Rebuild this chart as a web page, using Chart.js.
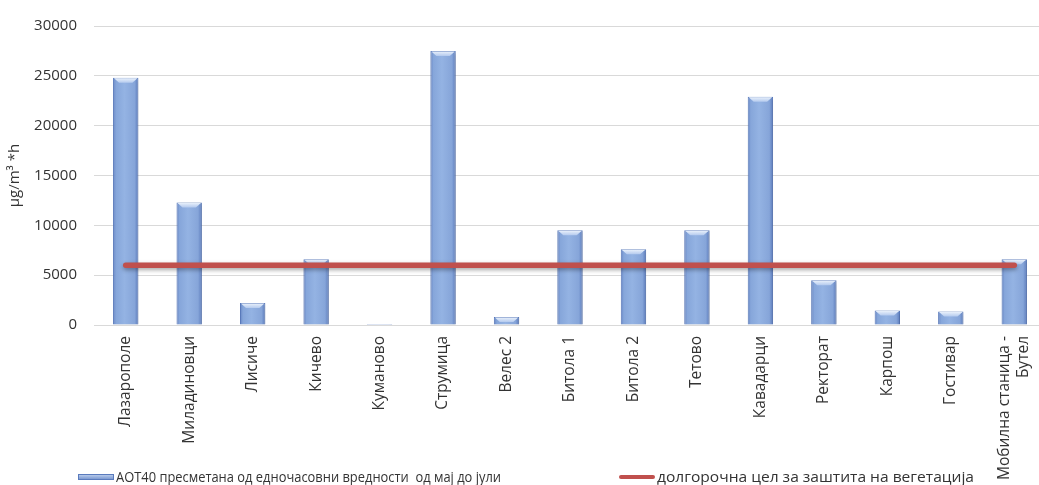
<!DOCTYPE html>
<html>
<head>
<meta charset="utf-8">
<script src="https://cdn.jsdelivr.net/npm/chart.js@4.4.1/dist/chart.umd.min.js"></script>
<style>
  html, body { margin: 0; padding: 0; background: #ffffff; overflow: hidden; }
  #wrap { position: relative; width: 1048px; height: 485px; }
</style>
</head>
<body>
<div id="wrap"><canvas id="c" width="1048" height="485"></canvas></div>
<script>
// Measuring stations
const stations = [
  'Лазарополе', 'Миладиновци', 'Лисиче', 'Кичево', 'Куманово',
  'Струмица', 'Велес 2', 'Битола 1', 'Битола 2', 'Тетово',
  'Кавадарци', 'Ректорат', 'Карпош', 'Гостивар', ['Мобилна станица -', 'Бутел']
];

// AOT40, May–July, µg/m³·h
const aot40 = [24800, 12300, 2200, 6600, 100, 27500, 800, 9500, 7600, 9500, 22900, 4500, 1450, 1350, 6600];

// Long-term objective for vegetation protection
const targetValue = 6000;
const target = stations.map(() => targetValue);

// Value axis
const yMin = 0;
const yMax = 30000;
const yStep = 5000;

const barLabel = 'AOT40 пресметана од едночасовни вредности  од мај до јули';
const lineLabel = 'долгорочна цел за заштита на вегетација';

const FONT = '"Open Sans", "Noto Sans", sans-serif';
const TEXT = '#333333';
const BAR_FILL = '#8eaddf';
const BAR_EDGE = '#5a7bbd';
const LINE_RED = '#c0504d';
const X_FONT_SIZE = 15.5;

// Shaded bars with a bevelled top, and a soft shadow under the target line
const styling = {
  id: 'styling',
  beforeDraw(chart) {
    // centre two-line category labels on their tick
    const xs = chart.scales.x;
    const lh = X_FONT_SIZE * 1.2;
    xs.getLabelItems().forEach(item => {
      if (Array.isArray(item.label) && item.label.length > 1 && !item._centred) {
        item.options.translation[0] -= lh * (item.label.length - 1) / 2;
        item._centred = true;
      }
    });
  },
  beforeDatasetDraw(chart, args) {
    const ctx = chart.ctx;
    const meta = args.meta;
    ctx.save();
    if (meta.type === 'bar') {
      meta.data.forEach(el => {
        const l = el.x - el.width / 2, r = el.x + el.width / 2;
        const g = ctx.createLinearGradient(l, 0, r, 0);
        g.addColorStop(0, '#6584c4');
        g.addColorStop(0.12, '#86a6da');
        g.addColorStop(0.45, '#94b3e3');
        g.addColorStop(0.85, '#86a5d9');
        g.addColorStop(1, '#5a7abb');
        el.options = Object.assign({}, el.options, { backgroundColor: g });
      });
      ctx.shadowColor = 'rgba(0,0,0,0.18)';
      ctx.shadowBlur = 3;
      ctx.shadowOffsetX = 1;
      ctx.shadowOffsetY = 1;
    } else if (meta.type === 'line') {
      ctx.shadowColor = 'rgba(0,0,0,0.35)';
      ctx.shadowBlur = 4;
      ctx.shadowOffsetY = 2;
    }
  },
  afterDatasetDraw(chart, args) {
    const ctx = chart.ctx;
    ctx.restore();
    const meta = args.meta;
    if (meta.type !== 'bar') return;
    ctx.save();
    meta.data.forEach(el => {
      const h = el.base - el.y;
      if (h < 3) return;
      const l = el.x - el.width / 2 + 1, r = el.x + el.width / 2 - 1;
      const d = Math.min(5, h - 1);
      const g = ctx.createLinearGradient(0, el.y, 0, el.y + d);
      g.addColorStop(0, '#eef4fc');
      g.addColorStop(1, '#b4caee');
      ctx.fillStyle = g;
      ctx.beginPath();
      ctx.moveTo(l, el.y + 0.5);
      ctx.lineTo(r, el.y + 0.5);
      ctx.lineTo(r - d, el.y + d);
      ctx.lineTo(l + d, el.y + d);
      ctx.closePath();
      ctx.fill();
    });
    ctx.restore();
  }
};

// Legend row along the bottom edge
const bottomLegend = {
  id: 'bottomLegend',
  afterDraw(chart) {
    const ctx = chart.ctx;
    const items = [
      { text: chart.data.datasets[1].label, kind: 'bar', x: 78, w: 385 },
      { text: chart.data.datasets[0].label, kind: 'line', x: 619, w: 317 }
    ];
    const sw = 36, gap = 2, cy = 477;
    ctx.save();
    ctx.font = '14px ' + FONT;
    ctx.textBaseline = 'middle';
    items.forEach(it => {
      const x = it.x;
      if (it.kind === 'bar') {
        const g = ctx.createLinearGradient(0, cy - 3, 0, cy + 3);
        g.addColorStop(0, '#c4d5f0');
        g.addColorStop(1, '#6f8fcc');
        ctx.fillStyle = g;
        ctx.fillRect(x, cy - 3, sw, 6);
        ctx.strokeStyle = BAR_EDGE;
        ctx.lineWidth = 1;
        ctx.strokeRect(x + 0.5, cy - 2.5, sw - 1, 5);
      } else {
        ctx.strokeStyle = LINE_RED;
        ctx.lineWidth = 4;
        ctx.lineCap = 'round';
        ctx.beginPath();
        ctx.moveTo(x + 2, cy);
        ctx.lineTo(x + sw - 2, cy);
        ctx.stroke();
      }
      const tx = x + sw + gap;
      const k = it.w / ctx.measureText(it.text).width;
      ctx.save();
      ctx.translate(tx, cy + 1);
      ctx.scale(k, 1);
      ctx.fillStyle = TEXT;
      ctx.fillText(it.text, 0, 0);
      ctx.restore();
    });
    ctx.restore();
  }
};

new Chart(document.getElementById('c'), {
  data: {
    labels: stations,
    datasets: [
      {
        type: 'line',
        label: lineLabel,
        data: target,
        borderColor: LINE_RED,
        backgroundColor: LINE_RED,
        borderWidth: 5.5,
        borderCapStyle: 'round',
        pointRadius: 0,
        pointHoverRadius: 0,
        fill: false
      },
      {
        type: 'bar',
        label: barLabel,
        data: aot40,
        backgroundColor: BAR_FILL,
        borderColor: BAR_EDGE,
        borderWidth: 1,
        categoryPercentage: 1,
        barPercentage: 0.4
      }
    ]
  },
  options: {
    responsive: false,
    devicePixelRatio: 1,
    animation: false,
    layout: { padding: { top: 17, right: 2, bottom: 0, left: 0 } },
    plugins: {
      legend: { display: false },
      tooltip: { enabled: false }
    },
    scales: {
      x: {
        offset: true,
        grid: { display: false, drawTicks: false },
        border: { display: true, color: '#d9d9d9', width: 1 },
        ticks: {
          color: TEXT,
          font: { family: FONT, size: X_FONT_SIZE },
          minRotation: 90,
          maxRotation: 90,
          autoSkip: false,
          padding: 11
        },
        afterFit(scale) {
          scale.height = 160;
          scale.paddingLeft = 0;
          scale.paddingRight = 0;
        }
      },
      y: {
        min: yMin,
        max: yMax,
        ticks: {
          stepSize: yStep,
          color: TEXT,
          font: { family: FONT, size: 15 },
          padding: 17,
          callback: v => String(v)
        },
        grid: { color: '#d9d9d9', lineWidth: 1, drawTicks: false },
        border: { display: false },
        title: {
          display: true,
          text: 'µg/m³ *h',
          color: TEXT,
          font: { family: FONT, size: 15 },
          padding: { top: 6, bottom: 0 }
        },
        afterFit(scale) { scale.width = 94; }
      }
    }
  },
  plugins: [styling, bottomLegend]
});
</script>
</body>
</html>
